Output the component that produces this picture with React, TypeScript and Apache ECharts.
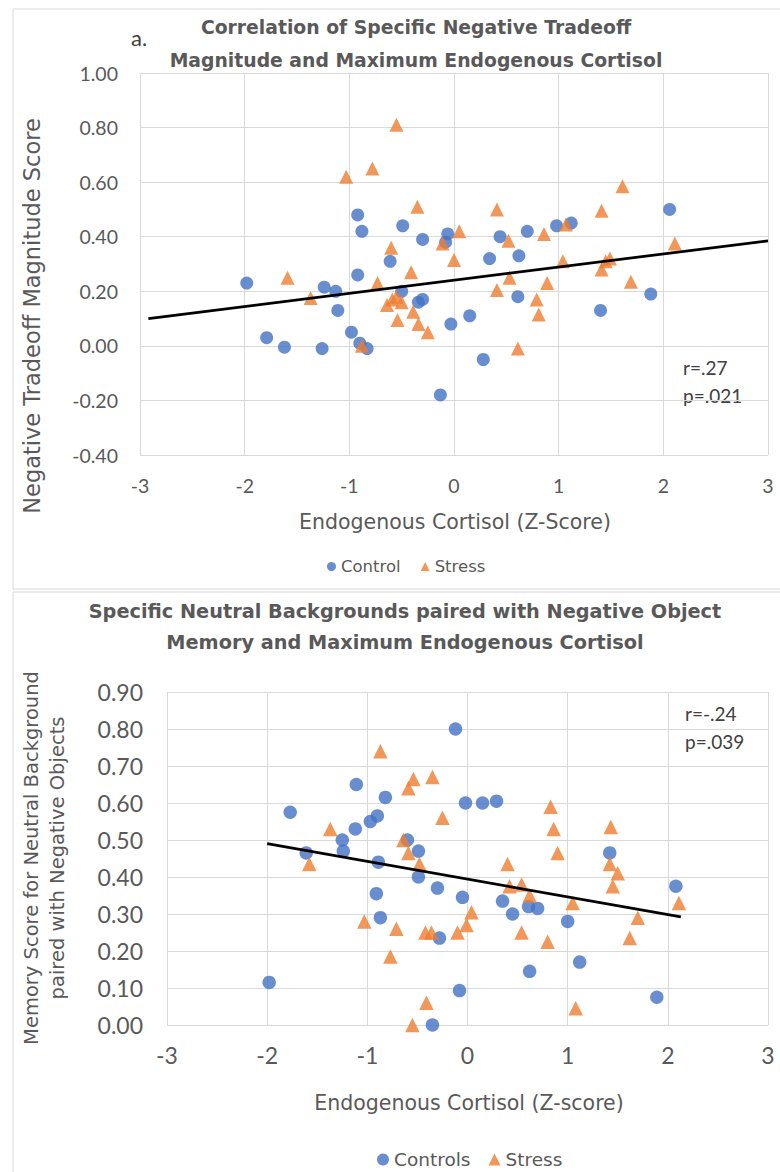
import React, { useEffect, useRef } from "react";
import * as echarts from "echarts";

// ---------- Data ----------
// Chart a: Negative tradeoff magnitude vs. endogenous cortisol
const topControl: [number, number][] = [
  [-1.98, 0.23], [-1.79, 0.03], [-1.62, -0.005], [-1.26, -0.01], [-1.24, 0.215],
  [-1.13, 0.2], [-1.11, 0.13], [-0.98, 0.05], [-0.92, 0.26], [-0.9, 0.01],
  [-0.83, -0.01], [-0.92, 0.48], [-0.88, 0.42], [-0.61, 0.31], [-0.5, 0.2],
  [-0.49, 0.44], [-0.34, 0.16], [-0.3, 0.17], [-0.3, 0.39], [-0.06, 0.41],
  [-0.08, 0.38], [-0.03, 0.08], [-0.13, -0.18], [0.15, 0.11], [0.28, -0.05],
  [0.34, 0.32], [0.44, 0.4], [0.62, 0.33], [0.61, 0.18], [0.7, 0.42],
  [0.98, 0.44], [1.12, 0.45], [1.4, 0.13], [1.88, 0.19], [2.06, 0.5],
];
const topStress: [number, number][] = [
  [-1.59, 0.25], [-1.37, 0.175], [-1.03, 0.62], [-0.88, 0.0], [-0.78, 0.65],
  [-0.73, 0.23], [-0.64, 0.15], [-0.6, 0.36], [-0.59, 0.17], [-0.55, 0.81],
  [-0.55, 0.18], [-0.54, 0.095], [-0.5, 0.16], [-0.41, 0.27], [-0.39, 0.125],
  [-0.35, 0.51], [-0.34, 0.08], [-0.25, 0.05], [-0.11, 0.375], [0.0, 0.315],
  [0.05, 0.42], [0.41, 0.5], [0.41, 0.205], [0.52, 0.385], [0.53, 0.25],
  [0.61, -0.01], [0.79, 0.17], [0.81, 0.115], [0.86, 0.41], [0.89, 0.23],
  [1.04, 0.31], [1.07, 0.445], [1.41, 0.495], [1.41, 0.28], [1.45, 0.31],
  [1.49, 0.32], [1.61, 0.585], [1.69, 0.235], [2.11, 0.375],
];
const topTrend: [number, number][] = [[-2.92, 0.1], [3.0, 0.385]];

// Chart b: Neutral background memory vs. endogenous cortisol
const bottomControl: [number, number][] = [
  [-1.98, 0.115], [-1.77, 0.575], [-1.61, 0.465], [-1.25, 0.5], [-1.24, 0.47],
  [-1.12, 0.53], [-1.11, 0.65], [-0.97, 0.55], [-0.9, 0.565], [-0.91, 0.355],
  [-0.89, 0.44], [-0.87, 0.29], [-0.82, 0.615], [-0.6, 0.5], [-0.49, 0.47],
  [-0.49, 0.4], [-0.35, 0.0], [-0.3, 0.37], [-0.28, 0.235], [-0.12, 0.8],
  [-0.08, 0.093], [-0.05, 0.345], [-0.02, 0.6], [0.15, 0.6], [0.29, 0.605],
  [0.35, 0.335], [0.45, 0.3], [0.61, 0.32], [0.62, 0.145], [0.7, 0.315],
  [1.0, 0.28], [1.12, 0.17], [1.42, 0.465], [1.89, 0.075], [2.08, 0.375],
];
const bottomStress: [number, number][] = [
  [-1.58, 0.435], [-1.37, 0.53], [-1.03, 0.28], [-0.87, 0.74], [-0.77, 0.185],
  [-0.71, 0.26], [-0.64, 0.5], [-0.59, 0.64], [-0.59, 0.465], [-0.54, 0.665],
  [-0.55, 0.0], [-0.48, 0.435], [-0.42, 0.25], [-0.41, 0.06], [-0.36, 0.25],
  [-0.35, 0.67], [-0.25, 0.56], [-0.1, 0.25], [-0.01, 0.27], [0.04, 0.305],
  [0.4, 0.435], [0.42, 0.375], [0.54, 0.38], [0.54, 0.25], [0.62, 0.35],
  [0.8, 0.225], [0.83, 0.59], [0.86, 0.53], [0.9, 0.465], [1.05, 0.33],
  [1.08, 0.045], [1.42, 0.435], [1.43, 0.535], [1.45, 0.375], [1.5, 0.41],
  [1.62, 0.235], [1.7, 0.29], [2.11, 0.33],
];
const bottomTrend: [number, number][] = [[-2.0, 0.49], [2.13, 0.292]];

const topTitleLines = [
  "Correlation of Specific Negative Tradeoff",
  "Magnitude and Maximum Endogenous Cortisol",
];
const bottomTitleLines = [
  "Specific Neutral Backgrounds paired with Negative Object",
  "Memory and Maximum Endogenous Cortisol",
];
const topYTitle = "Negative Tradeoff Magnitude Score";
const bottomYTitleLines = ["Memory Score for Neutral Background", "paired with Negative Objects"];
const topXTitle = "Endogenous Cortisol (Z-Score)";
const bottomXTitle = "Endogenous Cortisol (Z-score)";
const topStats = ["r=.27", "p=.021"];
const bottomStats = ["r=-.24", "p=.039"];

const BLUE = "#4472C4";
const ORANGE = "#ED7D31";
const GREY_TEXT = "#595959";
const DARK_TEXT = "#404040";
const GRID = "#d9d9d9";
const NARROW = "Lato, 'Open Sans', sans-serif";
const WIDE = "'DejaVu Sans', Verdana, sans-serif";

export default function App() {
  const ref = useRef<HTMLDivElement>(null);

  useEffect(() => {
    if (!ref.current) return;
    const chart = echarts.init(ref.current, undefined, { renderer: "svg" });

    const xAxisBase = (gridIndex: number, fontSize: number, margin: number) => ({
      type: "value",
      gridIndex,
      min: -3,
      max: 3,
      interval: 1,
      axisLine: { show: false },
      axisTick: { show: false },
      splitLine: { show: true, lineStyle: { color: GRID, width: 1 } },
      axisLabel: { color: GREY_TEXT, fontSize, fontFamily: NARROW, margin },
    });

    const yAxisBase = (
      gridIndex: number,
      min: number,
      max: number,
      interval: number,
      fontSize: number,
      margin: number
    ) => ({
      type: "value",
      gridIndex,
      min,
      max,
      interval,
      axisLine: { show: false },
      axisTick: { show: false },
      splitLine: { show: true, lineStyle: { color: GRID, width: 1 } },
      axisLabel: {
        color: GREY_TEXT,
        fontSize,
        fontFamily: NARROW,
        margin,
        formatter: (v: number) => v.toFixed(2),
      },
    });

    const text = (x: number, y: number, t: string, opts: any = {}) => ({
      type: "text",
      x,
      y,
      rotation: opts.rotation || 0,
      silent: true,
      style: {
        text: t,
        fill: opts.fill || GREY_TEXT,
        font: `${opts.weight || "normal"} ${opts.size || 18}px ${opts.family || WIDE}`,
        textAlign: opts.align || "center",
        textVerticalAlign: "middle",
      },
    });

    const option: any = {
      animation: false,
      backgroundColor: "#ffffff",
      grid: [
        { left: 140, top: 73, width: 628, height: 382 },
        { left: 167, top: 692, width: 601, height: 333 },
      ],
      xAxis: [xAxisBase(0, 19.5, 20), xAxisBase(1, 23, 18)],
      yAxis: [
        yAxisBase(0, -0.4, 1.0, 0.2, 19.5, 22),
        yAxisBase(1, 0, 0.9, 0.1, 23, 24),
      ],
      legend: [
        {
          data: [
            { name: "Control", icon: "circle" },
            { name: "Stress", icon: "triangle" },
          ],
          left: 322,
          top: 553,
          itemWidth: 9,
          itemHeight: 9,
          itemGap: 20,
          textStyle: { color: GREY_TEXT, fontSize: 16.5, fontFamily: WIDE },
          selectedMode: false,
        },
        {
          data: [
            { name: "Controls", icon: "circle" },
            { name: "Stress", icon: "triangle" },
          ],
          left: 372,
          top: 1145,
          itemWidth: 12,
          itemHeight: 12,
          itemGap: 18,
          textStyle: { color: GREY_TEXT, fontSize: 18.5, fontFamily: WIDE },
          selectedMode: false,
        },
      ],
      series: [
        {
          name: "Control",
          type: "scatter",
          xAxisIndex: 0,
          yAxisIndex: 0,
          symbol: "circle",
          symbolSize: 13,
          itemStyle: { color: BLUE },
          data: topControl,
        },
        {
          name: "Stress",
          type: "scatter",
          xAxisIndex: 0,
          yAxisIndex: 0,
          symbol: "triangle",
          symbolSize: 14,
          itemStyle: { color: ORANGE },
          data: topStress,
        },
        {
          name: "trendA",
          type: "line",
          xAxisIndex: 0,
          yAxisIndex: 0,
          symbol: "none",
          silent: true,
          lineStyle: { color: "#000000", width: 2.75 },
          data: topTrend,
          z: 5,
        },
        {
          name: "Controls",
          type: "scatter",
          xAxisIndex: 1,
          yAxisIndex: 1,
          symbol: "circle",
          symbolSize: 13.5,
          itemStyle: { color: BLUE },
          data: bottomControl,
        },
        {
          name: "Stress",
          type: "scatter",
          xAxisIndex: 1,
          yAxisIndex: 1,
          symbol: "triangle",
          symbolSize: 14.5,
          itemStyle: { color: ORANGE },
          data: bottomStress,
        },
        {
          name: "trendB",
          type: "line",
          xAxisIndex: 1,
          yAxisIndex: 1,
          symbol: "none",
          silent: true,
          lineStyle: { color: "#000000", width: 2.75 },
          data: bottomTrend,
          z: 5,
        },
      ],
      graphic: [
        {
          type: "rect",
          silent: true,
          z: -10,
          shape: { x: 13, y: 9, width: 780, height: 580 },
          style: { fill: "none", stroke: GRID, lineWidth: 1 },
        },
        {
          type: "rect",
          silent: true,
          z: -10,
          shape: { x: 13, y: 592, width: 780, height: 600 },
          style: { fill: "none", stroke: GRID, lineWidth: 1 },
        },
        text(131, 37, "a.", { align: "left", size: 22, fill: DARK_TEXT, family: NARROW }),
        text(416, 27, topTitleLines[0], { weight: "bold", size: 18.8 }),
        text(416, 60, topTitleLines[1], { weight: "bold", size: 18.8 }),
        text(32, 316, topYTitle, { rotation: Math.PI / 2, size: 22.5 }),
        text(455, 522, topXTitle, { size: 20.5 }),
        text(683, 367, topStats[0], { align: "left", size: 19, fill: DARK_TEXT, family: NARROW }),
        text(683, 395, topStats[1], { align: "left", size: 19, fill: DARK_TEXT, family: NARROW }),

        text(405, 611, bottomTitleLines[0], { weight: "bold", size: 19.3 }),
        text(405, 642, bottomTitleLines[1], { weight: "bold", size: 19.3 }),
        text(31, 858, bottomYTitleLines[0], { rotation: Math.PI / 2, size: 19.5 }),
        text(57, 858, bottomYTitleLines[1], { rotation: Math.PI / 2, size: 19.5 }),
        text(469, 1103, bottomXTitle, { size: 20.5 }),
        text(685, 713, bottomStats[0], { align: "left", size: 19, fill: DARK_TEXT, family: NARROW }),
        text(685, 741, bottomStats[1], { align: "left", size: 19, fill: DARK_TEXT, family: NARROW }),
      ],
    };

    chart.setOption(option);
    return () => chart.dispose();
  }, []);

  return (
    <div
      ref={ref}
      style={{ position: "fixed", left: 0, top: 0, width: 780, height: 1172 }}
    />
  );
}
